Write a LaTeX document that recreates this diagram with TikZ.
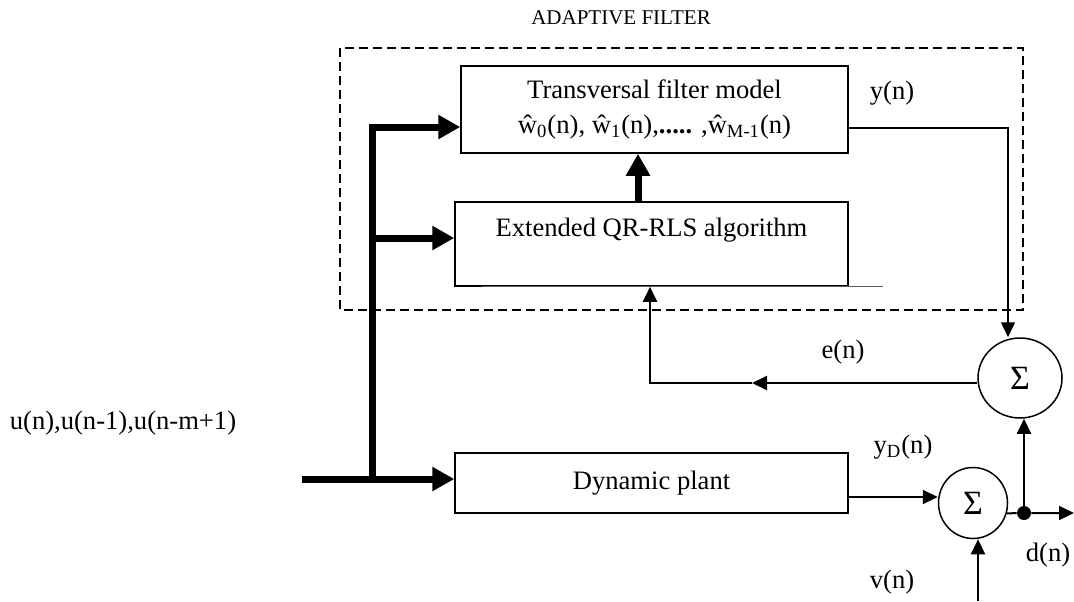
\documentclass[tikz,border=0pt]{standalone}
\usepackage{fontspec}
\setmainfont{Liberation Serif}
\usetikzlibrary{arrows.meta,positioning,calc,shapes.geometric}
\tikzset{
  blk/.style={draw,rectangle,line width=0.75pt,align=center,inner sep=0pt},
  sumnode/.style={ellipse,draw,line width=0.75pt,inner sep=0pt,font=\fontsize{17}{20}\selectfont},
  arr/.style={-{Triangle[length=7.5pt,width=7pt]},line width=1pt},
  thinarr/.style={-{Triangle[length=7.5pt,width=7pt]},line width=0.7pt},
  busarr/.style={-{Triangle[length=11pt,width=11.5pt]},line width=3.5pt},
  lbl/.style={inner sep=0pt,align=center}
}
\begin{document}
\begin{tikzpicture}[x=0.5pt,y=-0.5pt,font=\fontsize{13.3}{17.5}\selectfont]
  \useasboundingbox (0,0) rectangle (1074,601);
  \draw[dash pattern=on 4.5pt off 2.5pt,line width=0.6pt] (340,48) rectangle (1023,310);
  \node[lbl,font=\fontsize{10.5}{12}\selectfont] (title) at (621,18) {ADAPTIVE FILTER};

  \node[blk,minimum width=193.5pt,minimum height=43.5pt] (tfm) at (654.5,109.5) {Transversal filter model\\ ŵ\textsubscript{0}(n), ŵ\textsubscript{1}(n),\textbf{.....} ,ŵ\textsubscript{M-1}(n)};
  \node[blk,minimum width=196.5pt,minimum height=42pt,label={[lbl,yshift=7pt]center:Extended QR-RLS algorithm}] (qr) at (651.5,244) {};
  \node[blk,minimum width=196.5pt,minimum height=30pt] (plant) at (651.5,483) {Dynamic plant};
  \node[sumnode,minimum width=42pt,minimum height=40pt] (s1) at (1020,378) {Σ};
  \node[sumnode,minimum width=34.5pt,minimum height=35.5pt] (s2) at (973,503) {Σ};
  \node[circle,fill,inner sep=0pt,minimum size=7pt] (dot) at (1024,513) {};

  \coordinate (uin) at (302,479);
  \coordinate (busb) at (372,479);
  \coordinate (bust) at (372,127);
  \coordinate (busm) at (372,238);
  \coordinate (ycor) at (1008,128);
  \coordinate (ecor) at (650,383);
  \coordinate (emid) at (752,383);
  \coordinate (pout) at (848,497);
  \coordinate (vin) at (978,601);
  \coordinate (dout) at (1074,513);

  % input bus
  \draw[busarr] (uin) -- (uin -| plant.west);
  \draw[busarr] (busb) -- (bust) -- (bust -| tfm.west);
  \draw[busarr] (busm) -- (busm -| qr.west);
  \draw[busarr] ([xshift=-6.75pt]qr.north) -- ([xshift=-6.75pt]qr.north |- tfm.south);
  \draw[line width=0.5pt,gray!70!black] ([xshift=14pt]qr.south west) -- ([xshift=17pt]qr.south east);

  % error loop
  \draw[thinarr] (ycor -| tfm.east) -- (ycor) -- (ycor |- s1.north);
  \draw[arr] (s1.west |- ecor) -- (emid);
  \draw[arr] (emid) -- (ecor) -- (ecor |- qr.south);
  \draw[arr] (pout) -- (pout -| s2.west);
  \draw[arr] (s2.-17) -- (dot) -- (dout);
  \draw[arr] (dot) -- (dot |- s1.south);
  \draw[arr] (vin) -- (vin |- s2.south);

  \node[lbl] (yn) at (892,93) {y(n)};
  \node[lbl] (en) at (843,352) {e(n)};
  \node[lbl] (ydn) at (903,447) {y\textsubscript{D}(n)};
  \node[lbl] (vn) at (892,582) {v(n)};
  \node[lbl] (dn) at (1048,555) {d(n)};
  \node[lbl] (un) at (123,423) {u(n),u(n-1),u(n-m+1)};
\end{tikzpicture}
\end{document}
